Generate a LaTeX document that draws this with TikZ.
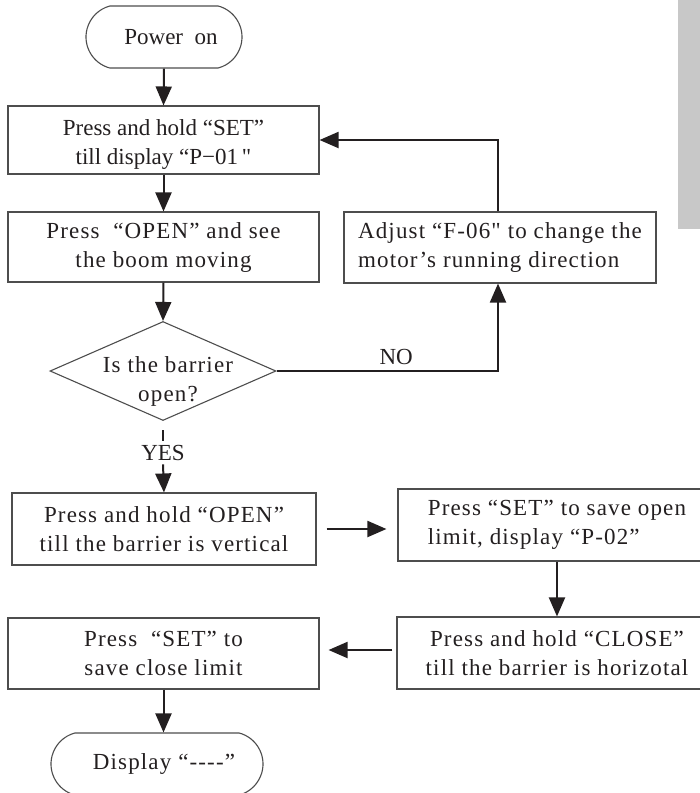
\documentclass[tikz,border=0pt]{standalone}
\usepackage{fontspec}
\newfontfamily\chartfont{Liberation Serif}
\newfontfamily\chartwide{Liberation Serif}[LetterSpace=5]
\usetikzlibrary{shapes.geometric,shapes.misc,arrows.meta}
\definecolor{ink}{HTML}{231F20}
\definecolor{frame}{HTML}{4D4D4D}
\definecolor{sidebar}{HTML}{C8C8C8}
\begin{document}
\begin{tikzpicture}[x=1pt,y=-1pt,
  every node/.style={font=\chartfont\fontsize{23}{29}\selectfont, text=ink},
  wide/.style={font=\chartwide\fontsize{23}{29}\selectfont},
  box/.style={draw=frame, line width=1.1pt, inner sep=0pt, align=center},
  term/.style={draw=frame, line width=1.1pt, rounded rectangle,
    rounded rectangle arc length=150, inner sep=0pt},
  decision/.style={draw=frame, line width=1.1pt, diamond, inner sep=0pt},
  arr/.style={draw=ink, line width=2pt, -{Triangle[length=19pt,width=16pt]}},
  plain/.style={draw=ink, line width=2pt},
]
\useasboundingbox (0,0) rectangle (700,793);
\clip (0,0) rectangle (700,793);

% grey margin tab
\fill[sidebar] (678,-2) rectangle (702,229);

% main column
\node[term, minimum width=156pt, minimum height=62pt] (power) at (164,37)
  {\hspace*{14pt}Power\ \ on};
\node[box, minimum width=311pt, minimum height=68pt] (b1) at (163.5,140)
  {\rule{0pt}{24pt}Press and hold “SET”\\till display “P\textminus01\,"};
\node[box, wide, minimum width=311pt, minimum height=70pt] (b2) at (163.5,247)
  {Press\ \ “OPEN” and see\\the boom moving};
\node[decision, minimum width=226pt, minimum height=99pt] (dia) at (163,371) {};
\node[wide, align=center, inner sep=0pt] (diatext) at (168,381) {Is the barrier\\open?};
\node[inner sep=4pt, anchor=base] (yes) at (163,460) {YES};
\node[box, wide, minimum width=304pt, minimum height=72pt] (b3) at (164,529)
  {Press and hold “OPEN”\\till the barrier is vertical};
\node[box, wide, minimum width=311pt, minimum height=71pt] (b6) at (163.5,653.5)
  {Press\ \ “SET” to\\save close limit};
\node[term, wide, minimum width=212pt, minimum height=62pt] (disp) at (157,764)
  {\hspace*{14pt}Display “----”};

% right column
\node[box, wide, align=left, minimum width=312pt, minimum height=71pt] (adj) at (500,247.5)
  {Adjust “F-06" to change the\\motor’s running direction};
\node[box, wide, align=left, minimum width=318pt, minimum height=72pt] (b4) at (557,525)
  {Press “SET” to save open\\limit, display “P-02”};
\node[box, wide, minimum width=320pt, minimum height=72pt] (b5) at (557,653)
  {Press and hold “CLOSE”\\till the barrier is horizotal};

% connectors
\draw[arr] (power.south) -- (b1.north);
\draw[arr] (b1.south) -- (b2.north);
\draw[arr] (b2.south) -- (dia.north);
\draw[arr] (dia.east) -| node[pos=0.27, above, inner sep=5pt] {NO} ([xshift=-2pt]adj.south);
\draw[arr] ([xshift=-2pt]adj.north) |- (b1.east);
\draw[plain, shorten <=9pt] (dia.south) -- (yes.north);
\draw[arr] (yes.south) -- (b3.north);
\draw[arr, shorten <=10pt, shorten >=11pt] (b3.east) -- (b3.east -| b4.west);
\draw[arr] (b4.south) -- (b5.north);
\draw[arr, shorten <=4pt, shorten >=9pt] ([yshift=3pt]b5.west) -- ([yshift=3pt]b5.west -| b6.east);
\draw[arr] (b6.south) -- (b6.south |- disp.north);
\end{tikzpicture}
\end{document}
